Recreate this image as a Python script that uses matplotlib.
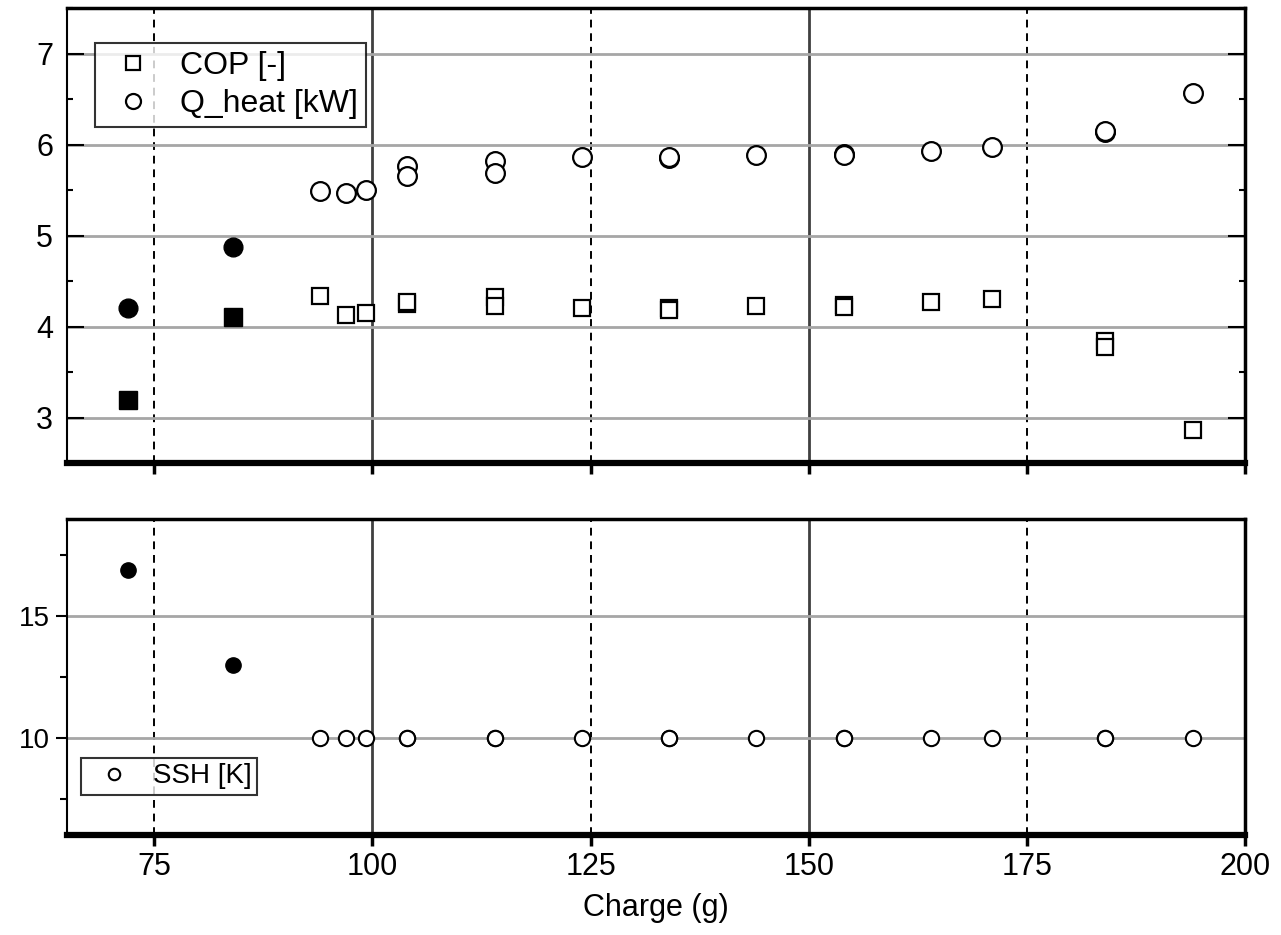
"""Refrigerant charge sweep: COP, heating capacity and suction superheat."""

import matplotlib
matplotlib.use("Agg")
import matplotlib.pyplot as plt
from matplotlib.ticker import MultipleLocator

plt.rcParams['font.family'] = ['Liberation Sans', 'DejaVu Sans']

# Charge levels with fixed-opening runs (filled markers)
charge_fixed = [72, 84]
cop_fixed = [3.19, 4.10]
qheat_fixed = [4.20, 4.87]
ssh_fixed = [16.9, 13.0]

# Charge levels with controlled superheat (open markers), repeated runs included
charge = [94, 97, 99.3, 104, 104, 114, 114, 124, 134, 134, 144, 154, 154,
          164, 171, 184, 184, 194]
cop = [4.33, 4.13, 4.15, 4.25, 4.27, 4.32, 4.23, 4.20, 4.20, 4.18, 4.23,
       4.24, 4.22, 4.27, 4.30, 3.84, 3.78, 2.86]
qheat = [5.49, 5.47, 5.50, 5.76, 5.65, 5.82, 5.69, 5.86, 5.85, 5.86, 5.88,
         5.90, 5.89, 5.93, 5.97, 6.14, 6.15, 6.57]
ssh = [10.0] * len(charge)

x_ticks = [75, 100, 125, 150, 175, 200]


def style_grid(ax):
    ax.yaxis.grid(True, color='#a6a6a6', lw=2, zorder=0)
    for xv in x_ticks[:-1]:
        if xv % 50 == 0:
            ax.axvline(xv, color='#404040', lw=2, zorder=0)
        else:
            ax.axvline(xv, color='black', lw=1.4, ls=(0, (4, 3)), zorder=0)


fig = plt.figure(figsize=(12.81, 9.35), dpi=100)
ax1 = fig.add_axes([0.0523, 0.5048, 0.9196, 0.4866])
ax2 = fig.add_axes([0.0523, 0.1070, 0.9196, 0.3379])

# Top panel
open_kw = dict(ls='none', mfc='white', mec='black', mew=1.6, zorder=3)
ax1.plot(charge, cop, marker='s', ms=12, label='COP [-]', **open_kw)
ax1.plot(charge, qheat, marker='o', ms=13.5, label='Q_heat [kW]', **open_kw)
ax1.plot(charge_fixed, cop_fixed, marker='s', ms=13, ls='none', color='black', zorder=3)
ax1.plot(charge_fixed, qheat_fixed, marker='o', ms=13.5, ls='none', color='black', zorder=3)
ax1.set_xlim(65, 200)
ax1.set_ylim(2.5, 7.5)
ax1.yaxis.set_major_locator(MultipleLocator(1))
ax1.yaxis.set_minor_locator(MultipleLocator(0.5))
ax1.set_xticks(x_ticks)
ax1.set_xticklabels([])
ax1.tick_params(axis='y', which='both', direction='in', left=True, right=True,
                labelsize=22, pad=10)
ax1.tick_params(axis='y', which='major', length=12, width=1.5)
ax1.tick_params(axis='y', which='minor', length=4, width=1.5)
ax1.tick_params(axis='x', direction='out', length=8, width=2.5)
style_grid(ax1)
leg1 = ax1.legend(loc='upper left', bbox_to_anchor=(0.024, 0.923), fontsize=23,
                  frameon=True, fancybox=False, edgecolor='black',
                  borderaxespad=0, handletextpad=0.53, borderpad=0.25,
                  labelspacing=0.25, handlelength=1.875, markerscale=0.8)
leg1.get_frame().set_linewidth(1.5)

# Bottom panel
ax2.plot(charge, ssh, marker='o', ms=11, ls='none', mfc='white', mec='black',
         mew=1.5, label='SSH [K]', zorder=3)
ax2.plot(charge_fixed, ssh_fixed, marker='o', ms=11, ls='none', color='black', zorder=3)
ax2.set_xlim(65, 200)
ax2.set_ylim(6, 19)
ax2.set_yticks([10, 15])
ax2.yaxis.set_minor_locator(MultipleLocator(2.5))
ax2.set_xticks(x_ticks)
ax2.tick_params(axis='y', which='both', direction='out', labelsize=20, pad=4)
ax2.tick_params(axis='y', which='major', length=8, width=1.5)
ax2.tick_params(axis='y', which='minor', length=5, width=1.5)
ax2.tick_params(axis='x', direction='out', length=8, width=2.5, labelsize=22, pad=4)
style_grid(ax2)
ax2.set_xlabel('Charge (g)', fontsize=22, labelpad=8)
leg2 = ax2.legend(loc='lower left', bbox_to_anchor=(0.012, 0.127), fontsize=20,
                  frameon=True, fancybox=False, edgecolor='black',
                  borderaxespad=0, handletextpad=0.42, borderpad=0.2,
                  handlelength=1.97, markerscale=0.75)
leg2.get_frame().set_linewidth(1.5)

for ax in (ax1, ax2):
    ax.spines['bottom'].set_linewidth(4.5)
    ax.spines['top'].set_linewidth(2.5)
    ax.spines['right'].set_linewidth(2.5)
    ax.spines['left'].set_linewidth(1.5)

fig.savefig('out.png', dpi=100)
plt.close(fig)
